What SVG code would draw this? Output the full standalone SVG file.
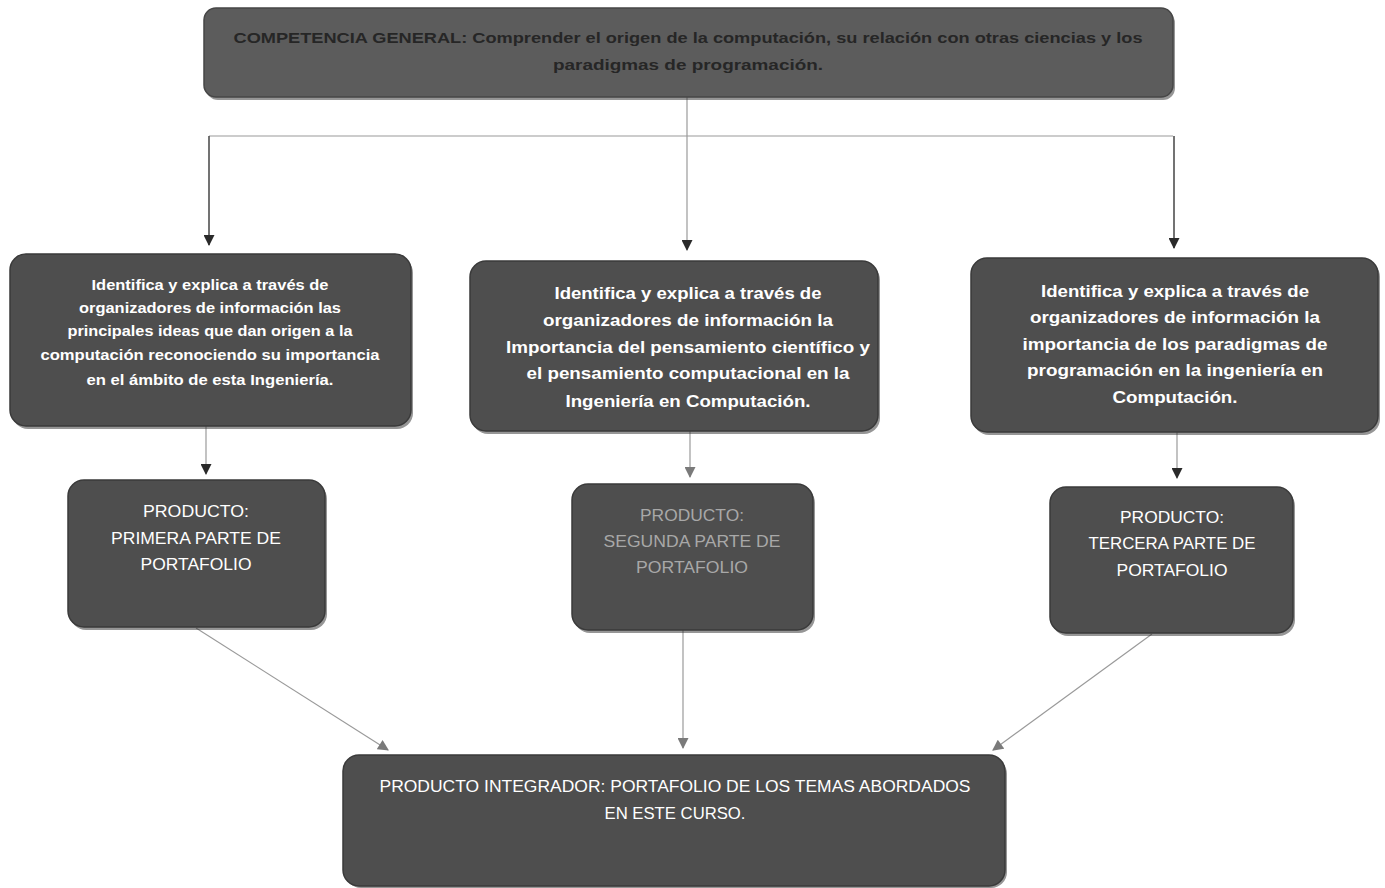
<svg xmlns="http://www.w3.org/2000/svg" width="1385" height="888" viewBox="0 0 1385 888">
<style>
.box{fill:#4e4e4e;stroke:#3a3a3a;stroke-width:1.5}
.top{fill:#5c5c5c;stroke:#464646;stroke-width:1.5}
.sh{fill:#2e2e2e;opacity:0.5}
.t{font-family:"Liberation Sans","Open Sans",sans-serif;text-anchor:middle;fill:#ffffff}
.b{font-weight:bold;font-size:15px}
.b2{font-weight:bold;font-size:16.5px}
.p{font-size:16.5px}
.tt{font-family:"Liberation Sans","Open Sans",sans-serif;text-anchor:middle;fill:#262626;font-weight:bold;font-size:15.5px}
.gray{fill:#a8a8a8}
.c{fill:none;stroke:#9a9a9a;stroke-width:1.2}
.cd{fill:none;stroke:#444;stroke-width:1.5}
</style>
<defs>
<marker id="ah" viewBox="0 0 10 10" refX="9" refY="5" markerWidth="12" markerHeight="11" orient="auto" markerUnits="userSpaceOnUse">
<path d="M0,0 L10,5 L0,10 z" fill="#2a2a2a"/>
</marker>
<marker id="ahg" viewBox="0 0 10 10" refX="9" refY="5" markerWidth="12" markerHeight="11" orient="auto" markerUnits="userSpaceOnUse">
<path d="M0,0 L10,5 L0,10 z" fill="#7a7a7a"/>
</marker>
</defs>
<rect width="1385" height="888" fill="#ffffff"/>

<g id="connectors">
<path class="c" d="M687,97 V136"/>
<path class="c" d="M209,136 H1173"/>
<path class="cd" d="M209,136 V245" marker-end="url(#ah)"/>
<path class="c" d="M687,136 V250" marker-end="url(#ah)"/>
<path class="cd" d="M1174,136 V248" marker-end="url(#ah)"/>
<path class="c" d="M206,426 V474" marker-end="url(#ah)"/>
<path class="c" d="M690,431 V477" marker-end="url(#ahg)"/>
<path class="c" d="M1177,432 V478" marker-end="url(#ah)"/>
<path class="c" d="M196,628 L388,750" marker-end="url(#ahg)"/>
<path class="c" d="M683,630 V748" marker-end="url(#ahg)"/>
<path class="c" d="M1152,634 L993,750" marker-end="url(#ahg)"/>
</g>

<g id="competencia">
<rect class="sh" x="206" y="11" width="969" height="89" rx="12"/>
<rect class="top" x="204" y="8" width="969" height="89" rx="12"/>
<text class="tt" x="688" y="43" textLength="909" lengthAdjust="spacingAndGlyphs">COMPETENCIA GENERAL: Comprender el origen de la computación, su relación con otras ciencias y los</text>
<text class="tt" x="688" y="70" textLength="270" lengthAdjust="spacingAndGlyphs">paradigmas de programación.</text>
</g>

<g id="objetivo1">
<rect class="sh" x="12" y="257" width="401" height="172" rx="16"/>
<rect class="box" x="10" y="254" width="401" height="172" rx="16"/>
<text class="t b" x="210" y="290" textLength="237" lengthAdjust="spacingAndGlyphs">Identifica y explica a través de</text>
<text class="t b" x="210" y="313" textLength="262" lengthAdjust="spacingAndGlyphs">organizadores de información las</text>
<text class="t b" x="210" y="336" textLength="285" lengthAdjust="spacingAndGlyphs">principales ideas que dan origen a la</text>
<text class="t b" x="210" y="360" textLength="339" lengthAdjust="spacingAndGlyphs">computación reconociendo su importancia</text>
<text class="t b" x="210" y="385" textLength="247" lengthAdjust="spacingAndGlyphs">en el ámbito de esta Ingeniería.</text>
</g>

<g id="objetivo2">
<rect class="sh" x="472" y="264" width="408" height="170" rx="16"/>
<rect class="box" x="470" y="261" width="408" height="170" rx="16"/>
<text class="t b2" x="688" y="299" textLength="267" lengthAdjust="spacingAndGlyphs">Identifica y explica a través de</text>
<text class="t b2" x="688" y="326" textLength="290" lengthAdjust="spacingAndGlyphs">organizadores de información la</text>
<text class="t b2" x="688" y="353" textLength="364" lengthAdjust="spacingAndGlyphs">Importancia del pensamiento científico y</text>
<text class="t b2" x="688" y="379" textLength="323" lengthAdjust="spacingAndGlyphs">el pensamiento computacional en la</text>
<text class="t b2" x="688" y="407" textLength="245" lengthAdjust="spacingAndGlyphs">Ingeniería en Computación.</text>
</g>

<g id="objetivo3">
<rect class="sh" x="973" y="261" width="407" height="174" rx="16"/>
<rect class="box" x="971" y="258" width="407" height="174" rx="16"/>
<text class="t b2" x="1175" y="297" textLength="268" lengthAdjust="spacingAndGlyphs">Identifica y explica a través de</text>
<text class="t b2" x="1175" y="323" textLength="290" lengthAdjust="spacingAndGlyphs">organizadores de información la</text>
<text class="t b2" x="1175" y="350" textLength="305" lengthAdjust="spacingAndGlyphs">importancia de los paradigmas de</text>
<text class="t b2" x="1175" y="376" textLength="296" lengthAdjust="spacingAndGlyphs">programación en la ingeniería en</text>
<text class="t b2" x="1175" y="403" textLength="125" lengthAdjust="spacingAndGlyphs">Computación.</text>
</g>

<g id="producto1">
<rect class="sh" x="70" y="483" width="257" height="147" rx="16"/>
<rect class="box" x="68" y="480" width="257" height="147" rx="16"/>
<text class="t p" x="196" y="517" textLength="106" lengthAdjust="spacingAndGlyphs">PRODUCTO:</text>
<text class="t p" x="196" y="544" textLength="170" lengthAdjust="spacingAndGlyphs">PRIMERA PARTE DE</text>
<text class="t p" x="196" y="570" textLength="111" lengthAdjust="spacingAndGlyphs">PORTAFOLIO</text>
</g>

<g id="producto2">
<rect class="sh" x="574" y="487" width="241" height="146" rx="16"/>
<rect class="box" x="572" y="484" width="241" height="146" rx="16"/>
<text class="t p gray" x="692" y="521" textLength="104" lengthAdjust="spacingAndGlyphs">PRODUCTO:</text>
<text class="t p gray" x="692" y="547" textLength="177" lengthAdjust="spacingAndGlyphs">SEGUNDA PARTE DE</text>
<text class="t p gray" x="692" y="573" textLength="112" lengthAdjust="spacingAndGlyphs">PORTAFOLIO</text>
</g>

<g id="producto3">
<rect class="sh" x="1052" y="490" width="243" height="146" rx="16"/>
<rect class="box" x="1050" y="487" width="243" height="146" rx="16"/>
<text class="t p" x="1172" y="523" textLength="104" lengthAdjust="spacingAndGlyphs">PRODUCTO:</text>
<text class="t p" x="1172" y="549" textLength="167" lengthAdjust="spacingAndGlyphs">TERCERA PARTE DE</text>
<text class="t p" x="1172" y="576" textLength="111" lengthAdjust="spacingAndGlyphs">PORTAFOLIO</text>
</g>

<g id="integrador">
<rect class="sh" x="345" y="758" width="662" height="130" rx="16"/>
<rect class="box" x="343" y="755" width="662" height="131" rx="16"/>
<text class="t p" x="675" y="792" textLength="591" lengthAdjust="spacingAndGlyphs">PRODUCTO INTEGRADOR: PORTAFOLIO DE LOS TEMAS ABORDADOS</text>
<text class="t p" x="675" y="819" textLength="141" lengthAdjust="spacingAndGlyphs">EN ESTE CURSO.</text>
</g>
</svg>
